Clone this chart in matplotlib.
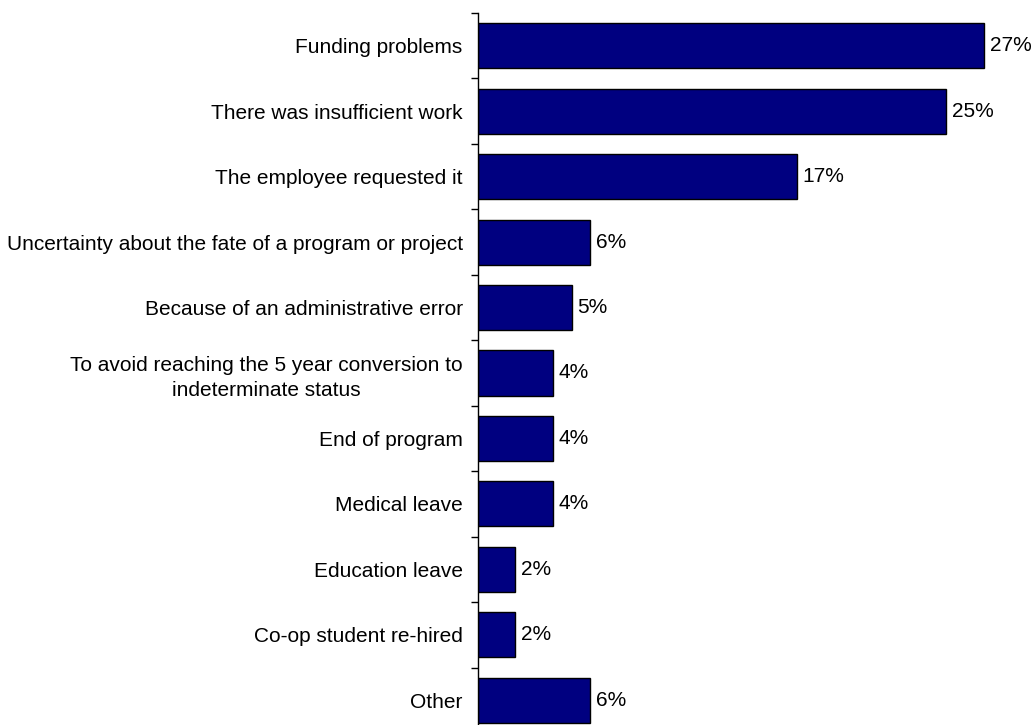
import matplotlib.pyplot as plt
import numpy as np

plt.rcParams['font.family'] = ['Liberation Sans', 'DejaVu Sans']

categories = [
    "Funding problems",
    "There was insufficient work",
    "The employee requested it",
    "Uncertainty about the fate of a program or project",
    "Because of an administrative error",
    "To avoid reaching the 5 year conversion to\nindeterminate status",
    "End of program",
    "Medical leave",
    "Education leave",
    "Co-op student re-hired",
    "Other",
]
values = [27, 25, 17, 6, 5, 4, 4, 4, 2, 2, 6]

fig = plt.figure(figsize=(10.32, 7.25), dpi=100)
# axes spans from the y-axis line to the right edge, running past the bottom
ax = fig.add_axes([478 / 1032, -8 / 725, 554 / 1032, 720 / 725])

n = len(categories)
y = np.arange(n)
ax.barh(y, values, height=0.69, color='#000080', edgecolor='black', linewidth=1)

ax.set_ylim(n - 0.5, -0.5)
ax.set_xlim(0, 554 / 18.74)

fs = 15
for yi, v in zip(y, values):
    ax.text(v + 0.3, yi, f"{v}%", va='center', ha='left', fontsize=fs)

# category labels, right-aligned next to the axis
ax.set_yticks(y)
ax.set_yticklabels(categories, fontsize=fs, ha='right', multialignment='center',
                   linespacing=1.4)
ax.tick_params(axis='y', which='major', length=0, pad=11)
ax.set_yticks(np.arange(-0.5, n, 1), minor=True)
ax.tick_params(axis='y', which='minor', length=5, width=1, direction='out')

ax.set_xticks([])
for side in ['top', 'right', 'bottom']:
    ax.spines[side].set_visible(False)
ax.spines['left'].set_linewidth(1)

fig.savefig('out.png', dpi=100)
